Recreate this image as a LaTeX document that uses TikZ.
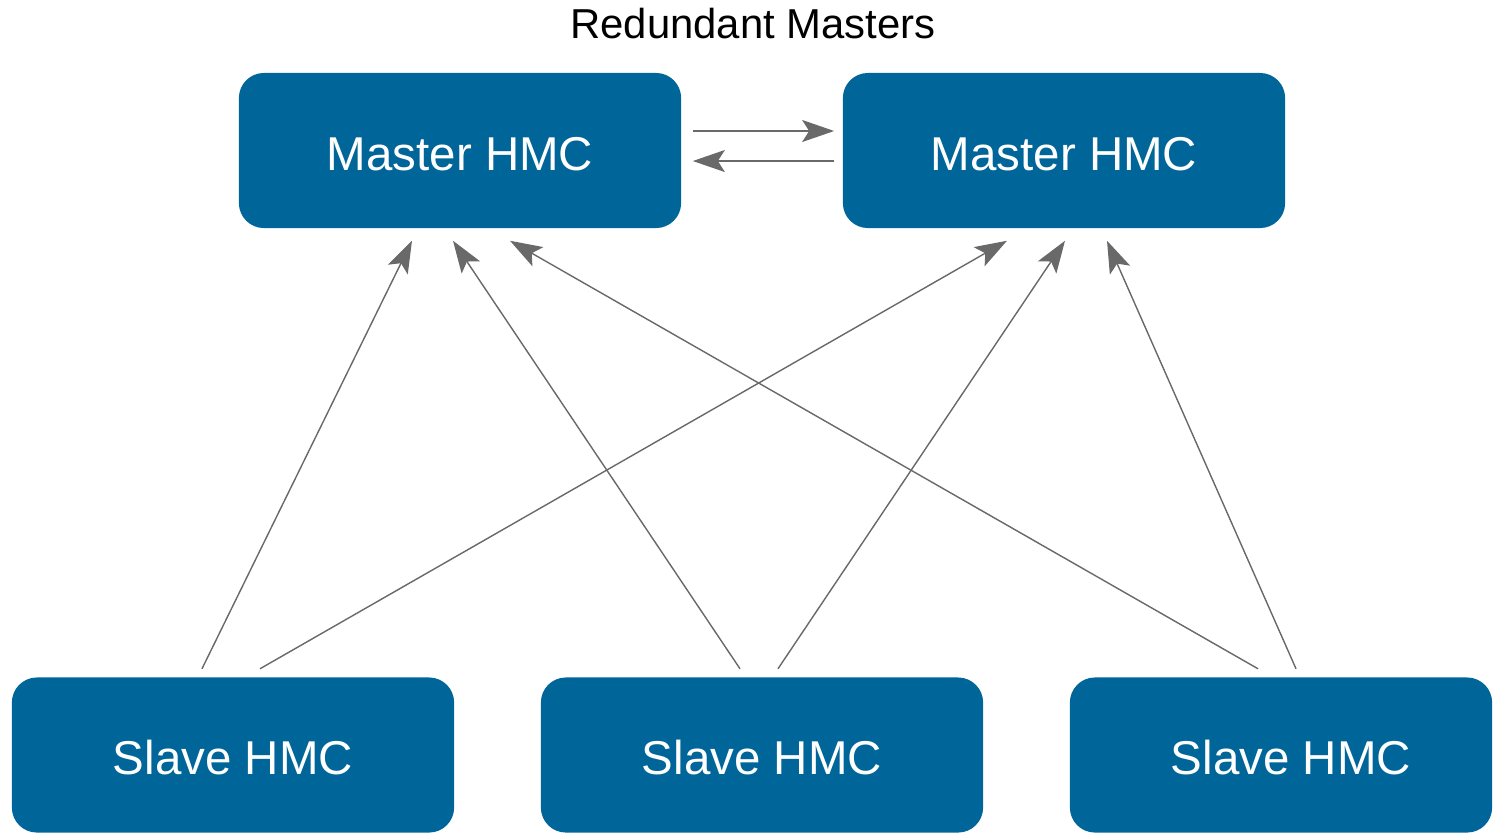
\documentclass[tikz,border=0pt]{standalone}
\usepackage{fontspec}
\setmainfont{Liberation Sans}
\usetikzlibrary{arrows.meta}
\definecolor{hmcblue}{RGB}{0,101,153}
\definecolor{linkgray}{RGB}{105,105,105}

\begin{document}
\begin{tikzpicture}[x=0.01cm,y=-0.01cm,
    hmc/.style={shape=rectangle,rounded corners=0.25cm,fill=hmcblue,text=white,
      minimum width=4.42cm,minimum height=1.55cm,inner sep=0pt,
      text height=0.39cm,text depth=0pt,
      font=\fontsize{13.5}{16}\selectfont},
    link/.style={-{Stealth[length=0.32cm,width=0.22cm,inset=0.07cm]},
      draw=linkgray,fill=linkgray,line width=0.4pt}]
            \useasboundingbox (0,0) rectangle (1496,832);
            \node[font=\fontsize{11.9}{14}\selectfont](Title)at(753,24){Redundant Masters};
            \node[hmc](M1)at(460,150.5){Master HMC};
            \node[hmc](M2)at(1064,150.5){Master HMC};
            \node[hmc](S1)at(233,755){Slave HMC};
            \node[hmc](S2)at(762,755){Slave HMC};
            \node[hmc,minimum width=4.22cm](S3)at(1281,755){\hspace*{0.2cm}Slave HMC};
            % masters talk to each other
            \path([xshift=0.11cm,yshift=0.195cm]M1.east) edge[link] ([xshift=-0.08cm,yshift=0.195cm]M2.west)
            ([xshift=-0.08cm,yshift=-0.105cm]M2.west) edge[link] ([xshift=0.11cm,yshift=-0.105cm]M1.east);
            % every slave reports to both masters
            \path([xshift=-0.31cm,yshift=0.08cm]S1.north) edge[link] ([xshift=-0.48cm,yshift=-0.12cm]M1.south)
            ([xshift=0.27cm,yshift=0.08cm]S1.north) edge[link] ([xshift=-0.57cm,yshift=-0.12cm]M2.south)
            ([xshift=-0.22cm,yshift=0.08cm]S2.north) edge[link] ([xshift=-0.07cm,yshift=-0.12cm]M1.south)
            ([xshift=0.16cm,yshift=0.08cm]S2.north) edge[link] ([xshift=0.01cm,yshift=-0.12cm]M2.south)
            ([xshift=-0.23cm,yshift=0.08cm]S3.north) edge[link] ([xshift=0.50cm,yshift=-0.12cm]M1.south)
            ([xshift=0.15cm,yshift=0.08cm]S3.north) edge[link] ([xshift=0.43cm,yshift=-0.12cm]M2.south);
        \end{tikzpicture}
\end{document}
